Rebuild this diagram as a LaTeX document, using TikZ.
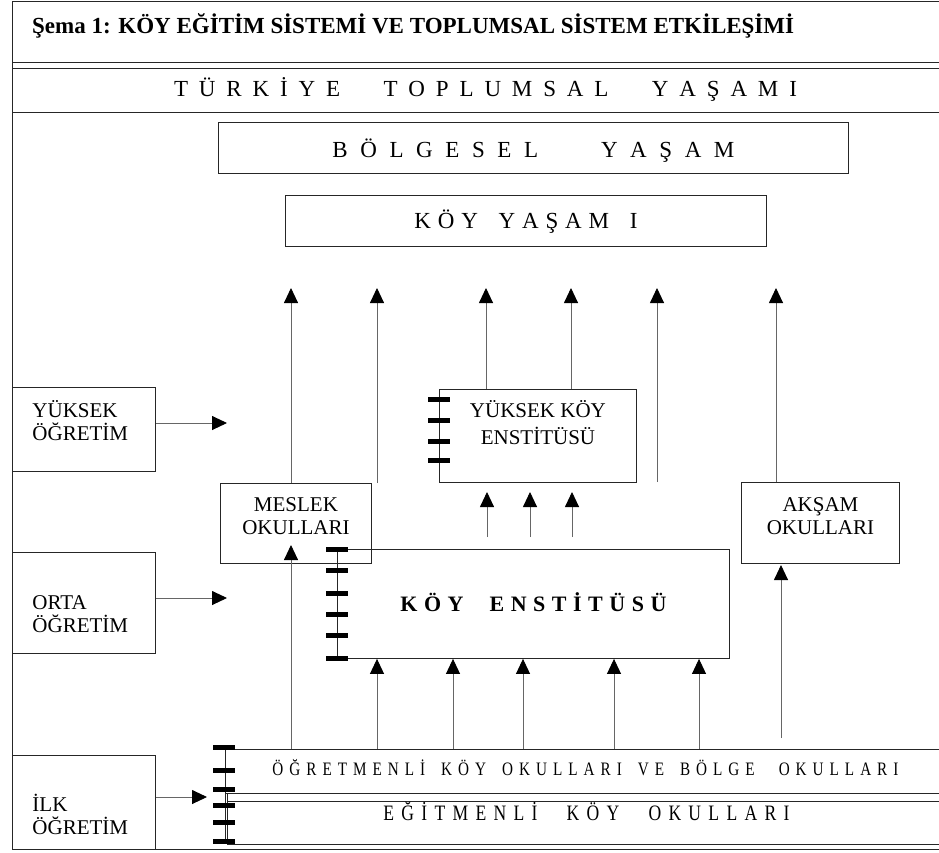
\documentclass[tikz,border=0pt]{standalone}
\usepackage{fontspec}
\setmainfont{Liberation Serif}
\newfontfamily\narrowfont[FakeStretch=0.8]{Liberation Serif}
\usetikzlibrary{arrows.meta}

% spread the letters of a line over a given width
\newcommand{\spread}[2]{\makebox[#1][s]{#2}}

\tikzset{
  box/.style={draw=black!85, line width=0.9pt, inner sep=0pt, anchor=north west, align=center},
  leftbox/.style={box, align=left, inner xsep=20pt, text width=103pt},
  arr/.style={draw=black!60, line width=0.9pt, -{Triangle[length=15pt,width=14pt,color=black]}},
  rail/.style={draw=black!85, line width=0.9pt},
  rung/.style={line width=5pt},
  wide/.style={font=\fontsize{23}{27}\selectfont},
}

\begin{document}
\begin{tikzpicture}[x=1pt, y=-1pt, font=\fontsize{21}{23}\selectfont]
    \useasboundingbox (0,0) rectangle (939,852);

    % frame and header
    \draw[rail] (12,1.5) -- (939,1.5);
    \draw[rail] (12,1.5) -- (12,849) -- (939,849);
    \draw[rail] (12,62) -- (939,62) (12,68) -- (939,68);
    \draw[rail] (12,112) -- (939,112);
    \node[anchor=base west, inner sep=0pt, font=\bfseries\fontsize{23}{26}\selectfont] (title) at (32,33) {Şema 1: KÖY EĞİTİM SİSTEMİ VE TOPLUMSAL SİSTEM ETKİLEŞİMİ};
    \node[anchor=base, inner sep=0pt, wide] (turkiye) at (485.5,96) {\spread{623pt}{T Ü R K İ Y E \ \ \ T O P L U M S A L \ \ \ Y A Ş A M I}};

    \node[box, wide, minimum width=630pt, text height=35pt, text depth=16pt] (bolgesel) at (218,122) {\spread{402pt}{B Ö L G E S E L \ \ \ \ Y A Ş A M}};
    \node[box, wide, minimum width=481pt, text height=33pt, text depth=18pt] (koyyasami) at (285,195) {\spread{223pt}{K Ö Y \ \ Y A Ş A M \ \ I}};

    % left column
    \node[leftbox, text height=30pt, text depth=54pt] (yuksek) at (12,387) {YÜKSEK\\ÖĞRETİM};
    \node[leftbox, text height=57pt, text depth=44pt] (orta) at (12,552) {ORTA\\ÖĞRETİM};
    \node[leftbox, text height=56pt, text depth=38pt] (ilk) at (12,755) {İLK\\ÖĞRETİM};

    % schools
    \node[box, minimum width=197pt, text height=55pt, text depth=38pt, font=\fontsize{21}{27}\selectfont] (yke) at (439,389) {YÜKSEK KÖY\\ENSTİTÜSÜ};
    \node[box, minimum width=151pt, text height=51pt, text depth=29pt] (meslek) at (220,483) {MESLEK\\OKULLARI};
    \node[box, minimum width=158pt, text height=52pt, text depth=29pt] (aksam) at (741,482) {AKŞAM\\OKULLARI};
    \node[box, minimum width=392pt, text height=62pt, text depth=47pt, font=\bfseries\fontsize{22}{26}\selectfont] (koyens) at (337,549) {\spread{266pt}{K Ö Y \ \ \ E N S T İ T Ü S Ü}};
    \node[box, minimum width=720pt, text height=26pt, text depth=18pt, font=\narrowfont\fontsize{19}{22}\selectfont] (ogretmenli) at (225,749) {\spread{626pt}{Ö Ğ R E T M E N L İ \hspace{4pt} K Ö Y \hspace{4pt} O K U L L A R I \hspace{4pt} V E \hspace{4pt} B Ö L G E \ \ \ O K U L L A R I}};
    \node[box, minimum width=718pt, text height=19pt, text depth=24pt, font=\narrowfont\fontsize{22}{25}\selectfont] (egitmenli) at (227,801) {\spread{406pt}{E Ğ İ T M E N L İ \ \ \ K Ö Y \ \ \ O K U L L A R I}};
    \draw[rail] (egitmenli.north west) -- (egitmenli.north west |- ogretmenli.south);

    % ladders
    \draw[rail] (225,747) -- (225,844);
    \foreach \y in {747,770,789,805,822,841}
      \draw[rung] (213,\y) -- (235,\y);
    \foreach \y in {549,570,593,614,635,658}
      \draw[rung] (326,\y) -- (348,\y);
    \foreach \y in {399,420,441,460}
      \draw[rung] (428,\y) -- (450,\y);

    % arrows up to village life
    \coordinate (t1) at (291,288);
    \coordinate (t2) at (377,288);
    \coordinate (t3) at (486,288);
    \coordinate (t4) at (571,288);
    \coordinate (t5) at (657,288);
    \coordinate (t6) at (776,288);
    \coordinate (f2) at (377,483);
    \coordinate (f5) at (657,482);
    \draw[arr] (t1 |- meslek.north) -- (t1);
    \draw[arr] (f2) -- (t2);
    \draw[arr] (t3 |- yke.north) -- (t3);
    \draw[arr] (t4 |- yke.north) -- (t4);
    \draw[arr] (f5) -- (t5);
    \draw[arr] (t6 |- aksam.north) -- (t6);

    \foreach \x in {487,530,572} {
      \coordinate (lo\x) at (\x,537);
      \coordinate (hi\x) at (\x,492);
      \draw[arr] (lo\x) -- (hi\x);
    }

    \foreach \x in {377,453,523,614,699}
      \draw[arr] (ogretmenli.north -| \x,0) -- (koyens.south -| \x,0);

    \coordinate (m1) at (291,545);
    \draw[arr] (ogretmenli.north -| m1) -- (m1);
    \coordinate (k1) at (781,738);
    \coordinate (k2) at (781,565);
    \draw[arr] (k1) -- (k2);

    % arrows from the left column
    \coordinate (a1) at (227,423);
    \coordinate (a2) at (227,598);
    \coordinate (a3) at (207,797);
    \draw[arr] (yuksek.east |- a1) -- (a1);
    \draw[arr] (orta.east |- a2) -- (a2);
    \draw[arr] (ilk.east |- a3) -- (a3);
\end{tikzpicture}
\end{document}
